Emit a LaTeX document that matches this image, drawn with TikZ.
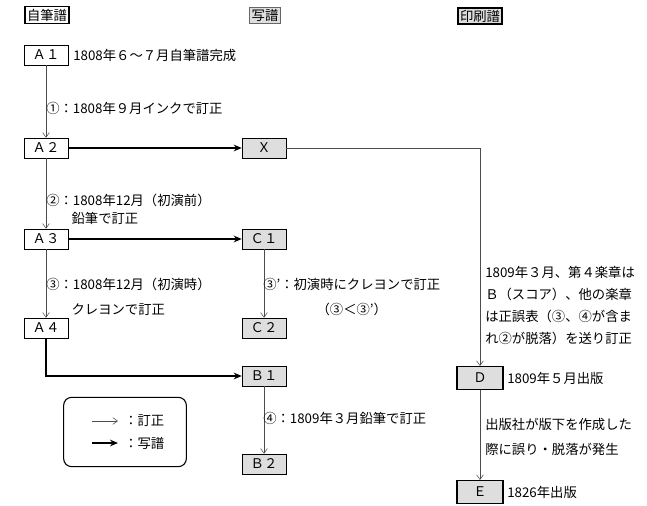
\documentclass[tikz,border=0pt]{standalone}
\usepackage{fontspec}
\setmainfont{Noto Sans CJK JP}
\usetikzlibrary{arrows.meta}

\tikzset{
  autobox/.style={draw, thin, fill=white, minimum width=33pt, minimum height=15pt, inner sep=1pt, font=\fontsize{10}{12}\selectfont},
  copybox/.style={autobox, fill=black!13},
  printbox/.style={copybox, line width=1pt, minimum width=34.5pt, minimum height=17pt},
  headbox/.style={draw, inner sep=1.5pt, font=\fontsize{10}{11}\selectfont},
  fixline/.style={draw=black!70, thin, -{Straight Barb[length=3.5pt,width=5pt]}},
  copyline/.style={line width=1pt, -{Stealth[length=6pt,width=5pt]}},
  note/.style={anchor=west, inner sep=0pt, font=\fontsize{10}{12}\selectfont},
}

\begin{document}
\begin{tikzpicture}[x=0.75pt,y=-0.75pt]
    \useasboundingbox (0,0) rectangle (647,506);

    % column heads
    \node[headbox, line width=0.8pt] (hdrauto) at (47,15) {自筆譜};
    \node[headbox, thin, draw=black!60, fill=black!13] (hdrcopy) at (265,15) {写譜};
    \node[headbox, line width=1pt, fill=black!13] (hdrprint) at (480,16) {印刷譜};

    % autograph score
    \node[autobox] (a1) at (46,55) {Ａ１};
    \node[autobox] (a2) at (46,148) {Ａ２};
    \node[autobox] (a3) at (46,239) {Ａ３};
    \node[autobox] (a4) at (46,328) {Ａ４};

    % copies
    \node[copybox] (x) at (264,148) {Ｘ};
    \node[copybox] (c1) at (264,239) {Ｃ１};
    \node[copybox] (c2) at (264,328) {Ｃ２};
    \node[copybox] (b1) at (264,376) {Ｂ１};
    \node[copybox] (b2) at (264,464) {Ｂ２};

    % printed editions
    \node[printbox] (d) at (480,378) {Ｄ};
    \node[printbox] (e) at (480,492) {Ｅ};

    % corrections
    \draw[fixline] (a1) -- (a2);
    \draw[fixline] (a2) -- (a3);
    \draw[fixline] (a3) -- (a4);
    \draw[fixline] (c1) -- (c2);
    \draw[fixline] (b1) -- (b2);
    \draw[fixline] (x.east) -| (d.north);
    \draw[fixline] (d) -- (e);

    % copying
    \draw[copyline] (a2) -- (x);
    \draw[copyline] (a3) -- (c1);
    \draw[copyline] (a4.south) |- (b1.west);

    % texts
    \node[note] (ta1) at (73,55) {1808年６～７月自筆譜完成};
    \node[note] (t1) at (46,108) {①：1808年９月インクで訂正};
    \node[note, align=left, font=\fontsize{10}{13.5}\selectfont] (t2) at (46,209) {②：1808年12月（初演前）\\\hspace*{1.9em}鉛筆で訂正};
    \node[note, align=left, font=\fontsize{10}{18.5}\selectfont] (t3) at (46,297) {③：1808年12月（初演時）\\\hspace*{1.9em}クレヨンで訂正};
    \node[note, align=center, font=\fontsize{10}{18.5}\selectfont] (t3p) at (263,297) {③’：初演時にクレヨンで訂正\\（③＜③’）};
    \node[note] (t4) at (263,418) {④：1809年３月鉛筆で訂正};
    \node[note, align=left, font=\fontsize{10}{16.5}\selectfont] (tx) at (485,306) {1809年３月、第４楽章は\\Ｂ（スコア）、他の楽章\\は正誤表（③、④が含ま\\れ②が脱落）を送り訂正};
    \node[note] (td) at (507,378) {1809年５月出版};
    \node[note, align=left, font=\fontsize{10}{18.5}\selectfont] (tde) at (485,437) {出版社が版下を作成した\\際に誤り・脱落が発生};
    \node[note] (te) at (507,492) {1826年出版};

    % legend
    \node[draw, thick, rounded corners=6pt, minimum width=92pt, minimum height=52pt] (legend) at (125,432) {};
    \coordinate (lg1s) at (92,421);
    \coordinate (lg1e) at (118,421);
    \coordinate (lg2s) at (92,443);
    \coordinate (lg2e) at (118,443);
    \draw[fixline] (lg1s) -- (lg1e);
    \draw[copyline] (lg2s) -- (lg2e);
    \node[note] (lgt1) at (124,421) {：訂正};
    \node[note] (lgt2) at (124,443) {：写譜};

\end{tikzpicture}
\end{document}
